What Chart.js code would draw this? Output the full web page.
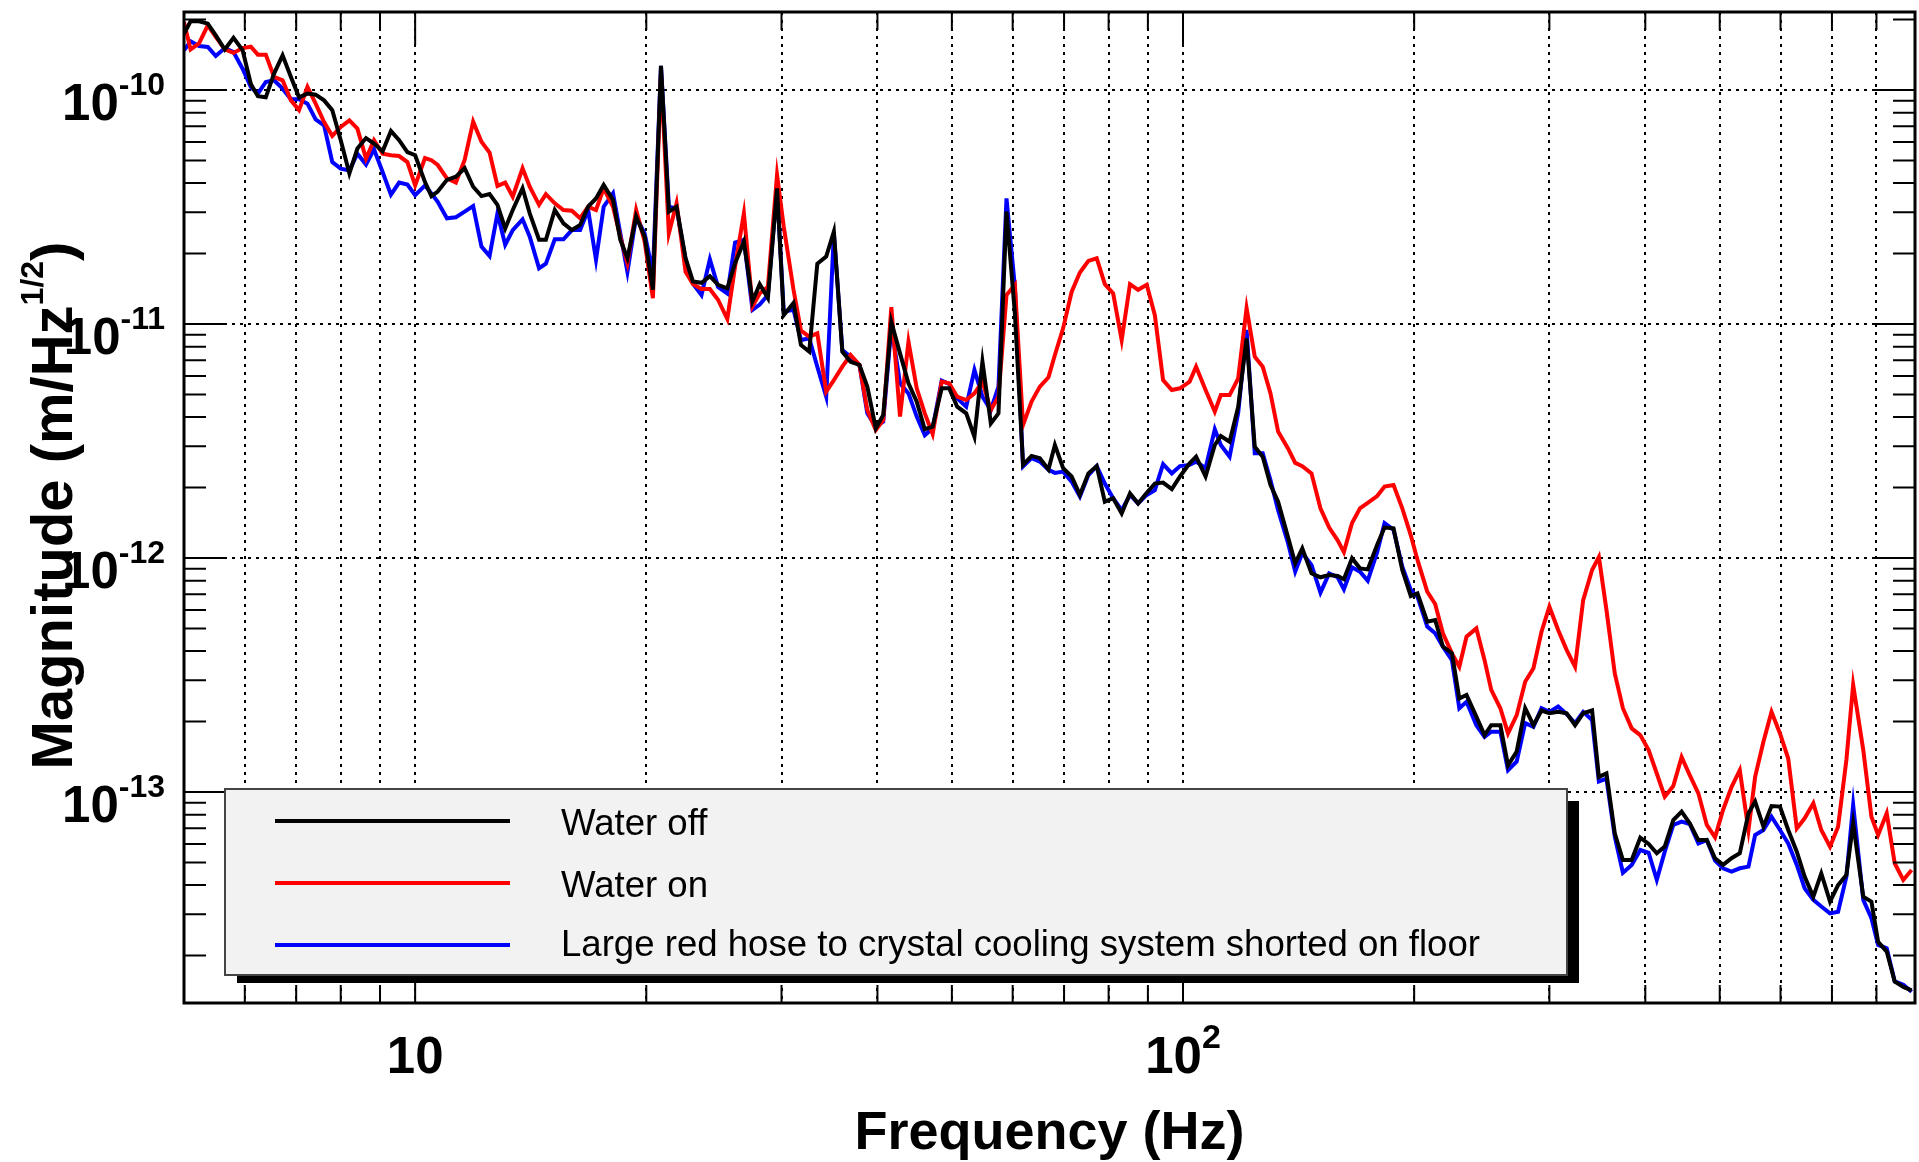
<!DOCTYPE html>
<html>
<head>
<meta charset="utf-8">
<script src="https://cdn.jsdelivr.net/npm/chart.js@4.4.1/dist/chart.umd.min.js"></script>
<style>
  html, body { margin: 0; padding: 0; background: #fff; }
  #wrap { width: 1919px; height: 1162px; }
</style>
</head>
<body>
<div id="wrap"><canvas id="chart" width="1919" height="1162"></canvas></div>
<script>
// frequency bins (Hz)
const freqHz = [
  5.00, 5.10, 5.23, 5.37, 5.50, 5.65, 5.80, 5.96, 6.11, 6.24, 6.39, 6.55, 6.72, 6.89, 7.06, 7.24, 7.42, 7.61, 7.80, 8.00,
  8.21, 8.41, 8.63, 8.84, 9.07, 9.30, 9.53, 9.77, 10.0, 10.3, 10.5,
  10.7, 11.0, 11.3, 11.6, 11.9, 12.2, 12.5, 12.8, 13.1, 13.4, 13.8, 14.1, 14.5, 14.8, 15.2, 15.6, 16.0, 16.4, 16.8, 17.2,
  17.6, 18.1, 18.5, 18.9, 19.4, 19.9, 20.4, 20.9, 21.4,
  21.9, 22.5, 23.0, 23.6, 24.2, 24.8, 25.5, 26.1, 26.8, 27.5, 28.1, 28.8, 29.6, 30.2, 31.1, 31.8, 32.6, 33.4, 34.3, 35.1,
  36.0, 36.9, 37.9, 38.8, 39.8,
  40.7, 41.7, 42.8, 43.9, 45.0, 46.1, 47.2, 48.5, 49.6, 50.8, 52.2, 53.5, 54.8, 56.2, 57.5, 58.9, 60.4, 61.9, 63.5, 65.1, 66.8,
  68.1, 69.8, 71.6, 73.4, 75.3, 77.2, 79.1, 81.1, 83.2, 85.3, 87.4, 89.7, 91.9, 94.2, 96.7, 99.1, 102, 104, 107, 110,
  112, 115, 118, 121, 124, 127, 130, 133, 137, 140,
  143, 147, 151, 155, 159, 162, 166, 170, 174, 179, 183, 188, 193, 198, 202, 208, 213, 218, 224, 229,
  234, 241, 247, 252, 259, 265, 272, 279, 286, 293, 300, 308, 316, 324, 332, 341, 348,
  356, 365, 374, 384, 394, 404, 414, 424, 435, 446, 457, 469, 481, 493, 505, 518, 531, 545, 556, 570,
  584, 599, 614, 630, 645, 662, 678, 696, 713, 731, 746, 769, 788, 804, 825, 845, 867, 889
];

// magnitudes in units of 1e-12 m/Hz^1/2
const waterOff = [
  174, 196.5, 196.5, 192, 171, 149, 167, 148, 106, 94, 93, 117.5, 140.6, 113.7, 93, 96.5, 95.5, 90.3, 82, 61,
  44, 56.2, 62.3, 59, 54.7, 66.8, 61, 54.3, 52.6, 40.4, 35.2,
  36.8, 41.3, 42.6, 46.3, 38.6, 35.2, 35.9, 32.3, 25.6, 30.7, 38, 29.7, 22.9, 22.9, 30.7, 26.9, 25.2, 26.5, 31.7, 34.4,
  39.3, 33.9, 22.9, 19.1, 28.8, 23.6, 14, 126.7, 30.2,
  31.7, 19.1, 15.2, 15, 16, 14.7, 14.2, 18.2, 22.5, 12.5, 14.8, 12.9, 38, 10.9, 12.3, 8.13, 7.62, 18.1, 19.4, 24.8,
  7.62, 6.9, 6.68, 5.4, 3.58,
  4.08, 10.2, 7.49, 5.58, 4.66, 3.55, 3.64, 5.31, 5.31, 4.43, 4.15, 3.3, 6.9, 3.76, 4.15, 30.2, 11.1, 2.5, 2.73, 2.67, 2.39,
  3.04, 2.42, 2.23, 1.86, 2.3, 2.47, 1.74, 1.8, 1.55, 1.89, 1.71, 1.9, 2.08, 2.1, 1.97, 2.23, 2.54, 2.71, 2.23, 3.04,
  3.32, 3.14, 4.43, 8.68, 2.99, 2.71, 2.05, 1.74, 1.23, 0.949,
  1.1, 0.86, 0.827, 0.846, 0.838, 0.811, 0.997, 0.903, 0.894, 1.14, 1.35, 1.34, 0.889, 0.688, 0.706, 0.534, 0.543, 0.418, 0.391, 0.251,
  0.26, 0.21, 0.175, 0.193, 0.193, 0.13, 0.149, 0.228, 0.193, 0.223, 0.217, 0.22, 0.217, 0.193, 0.217, 0.223, 0.116,
  0.12, 0.0666, 0.0512, 0.0512, 0.0638, 0.06, 0.0547, 0.0584, 0.0759, 0.0824, 0.0735, 0.0623, 0.0623, 0.0521, 0.0488, 0.0521, 0.0547, 0.0811, 0.091, 0.0711,
  0.0871, 0.0866, 0.0688, 0.0556, 0.0435, 0.0357, 0.0449, 0.034, 0.04, 0.0442, 0.0735, 0.0357, 0.034, 0.0229, 0.0208, 0.0155, 0.0147, 0.0142
];

const waterOn = [
  195, 149, 158, 189, 168.5, 149, 144, 151, 153, 141.6, 141.6, 113.7, 110, 90.3, 82, 103, 87.4, 73, 63.6, 69.5,
  74.2, 68.4, 50.9, 61, 53.4, 52.6, 52.2, 49.2, 39.1, 51.2, 50.1,
  47.8, 41.9, 40.2, 50.2, 73.2, 60.1, 54, 38.9, 40.2, 35, 46.3, 38.6, 32.3, 35.9, 32.8, 30.7, 30.5, 28.3, 31.7, 30.7,
  38, 31.7, 23.6, 18.2, 30.7, 22.5, 12.9, 117.8, 24.4,
  32.8, 16.7, 14.8, 14.1, 14.1, 12.7, 10.5, 17.6, 29.7, 11.9, 13.5, 14.4, 43.3, 26.1, 14, 9.37, 8.83, 9.12, 5.14, 5.76,
  6.57, 7.37, 6.68, 4.29, 3.52,
  3.89, 11.8, 4.02, 8.4, 5.31, 4.15, 3.39, 5.67, 5.58, 4.89, 4.73, 5.05, 5.67, 4.29, 4.89, 13.3, 14.7, 3.7, 4.66, 5.4, 5.92,
  7.37, 9.58, 13.7, 16.6, 18.6, 19.1, 14.8, 13.5, 8.54, 14.8, 14, 14.7, 10.9, 5.76, 5.22, 5.31, 5.67, 6.57, 5.22, 4.22,
  4.97, 4.97, 5.86, 11.7, 7.25, 6.57, 5.05, 3.47, 2.94, 2.55,
  2.47, 2.3, 1.63, 1.35, 1.19, 1.06, 1.41, 1.63, 1.72, 1.84, 2.02, 2.05, 1.63, 1.25, 0.981, 0.718, 0.636, 0.477, 0.391, 0.343,
  0.461, 0.5, 0.366, 0.273, 0.228, 0.178, 0.213, 0.296, 0.338, 0.484, 0.619, 0.492, 0.404, 0.343, 0.661, 0.889, 1.01,
  0.6, 0.321, 0.228, 0.187, 0.175, 0.151, 0.12, 0.0955, 0.106, 0.141, 0.118, 0.0987, 0.0723, 0.064, 0.0838, 0.105, 0.124, 0.0688, 0.116, 0.164,
  0.22, 0.178, 0.139, 0.0699, 0.0772, 0.0895, 0.0688, 0.0584, 0.0711, 0.137, 0.287, 0.151, 0.0784, 0.0655, 0.0811, 0.0496, 0.0421, 0.0464
];

const hoseShorted = [
  147.7, 161.4, 154, 152.7, 139.7, 151, 145.3, 123.3, 103, 96.5, 108.2, 110, 101.3, 91.2, 91.2, 87.4, 74.9, 70.6, 49.2, 46.1,
  45.3, 53.4, 48, 55.8, 44.6, 35.7, 40.2, 39.4, 35.5, 39.1, 36.1,
  33.3, 28.3, 28.6, 30.2, 31.9, 21.4, 19.5, 29.7, 21.8, 25.2, 28, 23.6, 17.3, 18.1, 23, 23, 25.2, 25.2, 30.7, 18.8,
  31.7, 36.2, 24.4, 16.7, 28.8, 24.4, 16.5, 126.7, 31.7,
  31.2, 18.8, 14.9, 13.3, 18.9, 14.4, 13.5, 22.3, 22.9, 11.5, 12.1, 13.3, 38, 11.3, 11.5, 8.54, 8.69, 6.57, 4.89, 24.4,
  7.74, 7.25, 6.68, 4.15, 3.64,
  3.83, 9.74, 5.58, 5.05, 4.02, 3.35, 3.58, 5.73, 5.54, 4.81, 4.43, 6.36, 4.89, 4.29, 5.4, 34.4, 14.4, 2.46, 2.67, 2.58, 2.38,
  2.31, 2.34, 2.12, 1.83, 2.26, 2.47, 2.08, 1.8, 1.6, 1.86, 1.71, 1.86, 1.95, 2.52, 2.3, 2.47, 2.5, 2.58, 2.42, 3.55,
  3.04, 2.71, 4.18, 9.43, 2.8, 2.8, 2.15, 1.6, 1.16, 0.874,
  1.05, 0.934, 0.711, 0.86, 0.827, 0.735, 0.912, 0.874, 0.8, 1.06, 1.41, 1.32, 0.918, 0.73, 0.683, 0.509, 0.477, 0.418, 0.366, 0.228,
  0.243, 0.193, 0.172, 0.181, 0.181, 0.124, 0.135, 0.197, 0.19, 0.228, 0.22, 0.232, 0.215, 0.197, 0.22, 0.203, 0.111,
  0.114, 0.0644, 0.0452, 0.0488, 0.0565, 0.055, 0.0421, 0.0556, 0.0723, 0.0747, 0.073, 0.0603, 0.0623, 0.0509, 0.0472, 0.0457, 0.0472, 0.048, 0.0655, 0.0688,
  0.0784, 0.0688, 0.0603, 0.0488, 0.0388, 0.0346, 0.0324, 0.0303, 0.0308, 0.0435, 0.088, 0.0346, 0.0289, 0.0222, 0.0215, 0.0155, 0.015, 0.014
];

const seriesLabels = ['Water off', 'Water on', 'Large red hose to crystal cooling system shorted on floor'];
const seriesColors = ['#000000', '#ff0000', '#0000ff'];

// axes
const xGridTicks = [6, 7, 8, 9, 10, 20, 30, 40, 50, 60, 70, 80, 90, 100, 200, 300, 400, 500, 600, 700, 800];
const xLabelTicks = [10, 100];
const xLabelText = [['10', ''], ['10', '2']];
const yLabelTicks = [1e-13, 1e-12, 1e-11, 1e-10];
const yLabelText = [['10', '-13'], ['10', '-12'], ['10', '-11'], ['10', '-10']];
const xTitle = 'Frequency (Hz)';
const yTitle = ['Magnitude (m/Hz', '1/2', ')'];

const FONT = '"Liberation Sans", Arial, Helvetica, sans-serif';

const toPoints = vals => vals.map((v, i) => ({ x: freqHz[i], y: v * 1e-12 }));

// ticks on all four sides, frame, shaded legend box, power-of-ten labels
const rootStyle = {
  id: 'rootStyle',
  afterDatasetsDraw(chart) {
    const { ctx, chartArea: a, scales: { x, y } } = chart;
    ctx.save();
    ctx.strokeStyle = '#000';
    ctx.lineWidth = 2;
    ctx.beginPath();
    xGridTicks.forEach(v => {
      const px = x.getPixelForValue(v);
      const len = xLabelTicks.includes(v) ? 33 : 18;
      ctx.moveTo(px, a.bottom); ctx.lineTo(px, a.bottom - len);
      ctx.moveTo(px, a.top); ctx.lineTo(px, a.top + len);
    });
    for (let e = -14; e <= -10; e++) {
      for (let m = 1; m <= 9; m++) {
        const v = m * Math.pow(10, e);
        if (v < y.min || v > y.max) continue;
        const py = y.getPixelForValue(v);
        const len = m === 1 ? 43 : 22;
        ctx.moveTo(a.left, py); ctx.lineTo(a.left + len, py);
        ctx.moveTo(a.right, py); ctx.lineTo(a.right - len, py);
      }
    }
    ctx.stroke();
    ctx.lineWidth = 3;
    ctx.strokeRect(a.left, a.top, a.right - a.left, a.bottom - a.top);

    // legend
    const L = 225, T = 789, R = 1567, B = 975;
    ctx.fillStyle = '#000';
    ctx.fillRect(L + 12, T + 12, R - L, B - T - 4);
    ctx.fillStyle = '#f2f2f2';
    ctx.fillRect(L, T, R - L, B - T);
    ctx.lineWidth = 2;
    ctx.strokeStyle = '#444';
    ctx.strokeRect(L, T, R - L, B - T);
    const rows = [[821, 835], [883, 897], [945, 956]];
    ctx.font = '36.6px ' + FONT;
    chart.data.datasets.forEach((ds, i) => {
      const [ly, ty] = rows[i];
      ctx.strokeStyle = ds.borderColor;
      ctx.lineWidth = 4;
      ctx.beginPath();
      ctx.moveTo(275, ly); ctx.lineTo(510, ly);
      ctx.stroke();
      ctx.fillStyle = '#000';
      ctx.fillText(ds.label, 561, ty);
    });
    ctx.restore();
  },
  afterDraw(chart) {
    const { ctx, chartArea: a, scales: { x, y } } = chart;
    ctx.save();
    ctx.fillStyle = '#000';
    ctx.textBaseline = 'alphabetic';
    const big = 'bold 51px ' + FONT, small = 'bold 32px ' + FONT;

    yLabelTicks.forEach((v, i) => {
      const gy = y.getPixelForValue(v);
      const [b, p] = yLabelText[i];
      ctx.font = big; const w1 = ctx.measureText(b).width;
      ctx.font = small; const w2 = ctx.measureText(p).width;
      const start = 165 - w1 - w2;
      ctx.font = big; ctx.fillText(b, start, gy + 30);
      ctx.font = small; ctx.fillText(p, start + w1, gy + 5);
    });

    xLabelTicks.forEach((v, i) => {
      const gx = x.getPixelForValue(v);
      const [b, p] = xLabelText[i];
      ctx.font = big; const w1 = ctx.measureText(b).width;
      ctx.font = 'bold 34px ' + FONT; const w2 = p ? ctx.measureText(p).width : 0;
      const start = gx - (w1 + w2) / 2;
      ctx.font = big; ctx.fillText(b, start, a.bottom + 70);
      if (p) { ctx.font = 'bold 34px ' + FONT; ctx.fillText(p, start + w1, a.bottom + 45); }
    });

    ctx.font = 'bold 54px ' + FONT;
    ctx.textAlign = 'center';
    ctx.fillText(xTitle, (a.left + a.right) / 2, a.bottom + 146);
    ctx.textAlign = 'left';

    // rotated y title with superscript
    ctx.translate(72, (a.top + a.bottom) / 2 - 2);
    ctx.rotate(-Math.PI / 2);
    const tBig = 'bold 58px ' + FONT, tSmall = 'bold 32px ' + FONT;
    ctx.font = tBig; const m1 = ctx.measureText(yTitle[0]).width, m3 = ctx.measureText(yTitle[2]).width;
    ctx.font = tSmall; const m2 = ctx.measureText(yTitle[1]).width;
    let sx = -(m1 + m2 + m3) / 2;
    ctx.font = tBig; ctx.fillText(yTitle[0], sx, 0);
    ctx.font = tSmall; ctx.fillText(yTitle[1], sx + m1, -29);
    ctx.font = tBig; ctx.fillText(yTitle[2], sx + m1 + m2, 0);
    ctx.restore();
  }
};

const ctx = document.getElementById('chart').getContext('2d');
new Chart(ctx, {
  type: 'line',
  data: {
    datasets: [waterOff, waterOn, hoseShorted].map((vals, i) => ({
      label: seriesLabels[i],
      data: toPoints(vals),
      borderColor: seriesColors[i],
      backgroundColor: seriesColors[i],
      borderWidth: 4,
      pointRadius: 0,
      tension: 0,
      fill: false
    }))
  },
  options: {
    responsive: false,
    animation: false,
    layout: { padding: { left: 184, top: 12, right: 4, bottom: 159 } },
    plugins: { legend: { display: false }, tooltip: { enabled: false } },
    scales: {
      x: {
        type: 'logarithmic',
        min: 5,
        max: 898,
        afterBuildTicks: s => { s.ticks = xGridTicks.map(v => ({ value: v })); },
        afterFit: s => { s.height = 0; },
        ticks: { display: false, autoSkip: false },
        grid: { color: '#000', lineWidth: 2, drawTicks: false },
        border: { display: false, dash: [3, 5] }
      },
      y: {
        type: 'logarithmic',
        min: 1.254e-14,
        max: 2.154e-10,
        afterBuildTicks: s => { s.ticks = yLabelTicks.map(v => ({ value: v })); },
        afterFit: s => { s.width = 0; },
        ticks: { display: false, autoSkip: false },
        grid: { color: '#000', lineWidth: 2, drawTicks: false },
        border: { display: false, dash: [3, 5] }
      }
    }
  },
  plugins: [rootStyle]
});
</script>
</body>
</html>
